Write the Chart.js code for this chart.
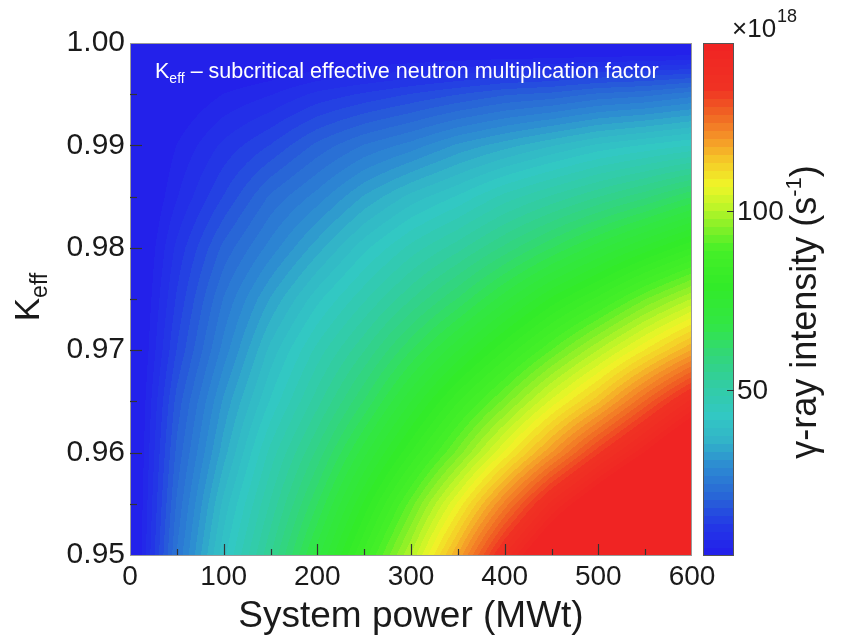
<!DOCTYPE html>
<html>
<head>
<meta charset="utf-8">
<script src="https://cdn.jsdelivr.net/npm/chart.js@4.4.1/dist/chart.umd.min.js"></script>
<style>
  html, body { margin: 0; padding: 0; background: #fff; }
  #wrap { width: 850px; height: 639px; }
</style>
</head>
<body>
<div id="wrap"><canvas id="chart" width="850" height="639"></canvas></div>
<script>
// grid (intensity in units of 1e18 s^-1)
const powers = [0, 50, 100, 150, 200, 250, 300, 350, 400, 450, 500, 550, 600];
const keffs = [0.950, 0.955, 0.960, 0.965, 0.970, 0.975, 0.980, 0.985, 0.990, 0.995, 1.000];
const intensity = [
  [0, 24, 41, 55, 70, 85, 100, 118, 138, 155, 170, 185, 198],
  [0, 22, 38, 51, 64, 78, 92, 107, 123, 139, 152, 165, 178],
  [0, 20, 34, 47, 58, 70, 82, 94, 107, 120, 133, 145, 158],
  [0, 18, 31, 42, 52, 62, 73, 84, 94, 105, 115, 127, 139],
  [0, 15, 27, 38, 47, 55, 64, 73, 82, 91, 100, 109, 118],
  [0, 13, 24, 33, 41, 48, 55, 62, 70, 78, 85, 93, 100],
  [0, 11, 20, 27, 34, 41, 47, 52, 58, 64, 70, 76, 82],
  [0, 8, 15, 22, 27, 33, 38, 42, 47, 51, 55, 59, 64],
  [0, 6, 11, 15, 20, 24, 27, 31, 34, 37, 40, 42, 44],
  [0, 3, 6, 8, 11, 13, 15, 17, 19, 20, 22, 23, 25],
  [0, 0, 0, 0, 0, 0, 0, 0, 0, 0, 0, 0, 0]
];
const xTickMarks = [50, 100, 150, 200, 250, 300, 350, 400, 450, 500, 550];
const yTickMarks = [0.955, 0.96, 0.965, 0.97, 0.975, 0.98, 0.985, 0.99, 0.995];
const cbTicks = [50, 100];
const cbMin = 3.7;
const cbMax = 146.8;

// colour stops taken from the colour bar (value -> rgb)
const cmapStops = [
  [3.7, [35, 30, 235]],
  [12, [35, 55, 230]],
  [20, [40, 100, 215]],
  [29, [45, 140, 210]],
  [36, [50, 180, 200]],
  [43, [50, 200, 195]],
  [52, [50, 205, 160]],
  [60, [50, 215, 120]],
  [68, [50, 230, 70]],
  [79, [50, 235, 40]],
  [89, [70, 240, 40]],
  [95, [130, 240, 40]],
  [101, [190, 245, 40]],
  [107, [240, 245, 40]],
  [114, [245, 200, 40]],
  [120, [245, 150, 40]],
  [127, [240, 100, 35]],
  [134, [240, 50, 35]],
  [146.8, [240, 35, 35]]
];

const FONT = '"Liberation Sans", Arial, Helvetica, sans-serif';

function colorFor(v) {
  // 64 discrete levels like a filled contour
  let t = (v - cbMin) / (cbMax - cbMin);
  t = Math.max(0, Math.min(0.9999, t));
  const lvl = Math.floor(t * 64);
  const q = cbMin + (lvl + 0.5) / 64 * (cbMax - cbMin);
  for (let i = 0; i < cmapStops.length - 1; i++) {
    const a = cmapStops[i], b = cmapStops[i + 1];
    if (q <= b[0]) {
      const f = Math.max(0, (q - a[0]) / (b[0] - a[0]));
      return [0, 1, 2].map(c => Math.round(a[1][c] + f * (b[1][c] - a[1][c])));
    }
  }
  return cmapStops[cmapStops.length - 1][1];
}

function locate(arr, v) {
  if (v <= arr[0]) return [0, 0];
  for (let i = 0; i < arr.length - 1; i++) {
    if (v <= arr[i + 1]) return [i, (v - arr[i]) / (arr[i + 1] - arr[i])];
  }
  return [arr.length - 2, 1];
}

function valueAt(p, k) {
  const [i, fx] = locate(powers, p);
  const [j, fy] = locate(keffs, k);
  const v00 = intensity[j][i], v10 = intensity[j][i + 1];
  const v01 = intensity[j + 1][i], v11 = intensity[j + 1][i + 1];
  return (v00 * (1 - fx) + v10 * fx) * (1 - fy) + (v01 * (1 - fx) + v11 * fx) * fy;
}

const heatmapPlugin = {
  id: 'heatmap',
  beforeDatasetsDraw(chart) {
    const { ctx, chartArea: ca, scales: { x, y } } = chart;
    const w = Math.round(ca.right - ca.left), h = Math.round(ca.bottom - ca.top);
    const off = document.createElement('canvas');
    off.width = w; off.height = h;
    const octx = off.getContext('2d');
    const img = octx.createImageData(w, h);
    const pv = [];
    for (let i = 0; i < w; i++) pv.push(x.getValueForPixel(ca.left + i + 0.5));
    for (let j = 0; j < h; j++) {
      const k = y.getValueForPixel(ca.top + j + 0.5);
      for (let i = 0; i < w; i++) {
        const c = colorFor(valueAt(pv[i], k));
        const o = (j * w + i) * 4;
        img.data[o] = c[0]; img.data[o + 1] = c[1]; img.data[o + 2] = c[2]; img.data[o + 3] = 255;
      }
    }
    octx.putImageData(img, 0, 0);
    ctx.drawImage(off, ca.left, ca.top);
  },
  afterDraw(chart) {
    const { ctx, chartArea: ca, scales: { x, y } } = chart;
    ctx.save();
    // frame
    ctx.strokeStyle = '#9a9a9a';
    ctx.lineWidth = 1;
    ctx.strokeRect(ca.left + 0.5, ca.top + 0.5, ca.right - ca.left - 1, ca.bottom - ca.top);

    // inward tick marks
    ctx.strokeStyle = '#333';
    ctx.lineWidth = 1.2;
    xTickMarks.forEach(v => {
      const px = Math.round(x.getPixelForValue(v)) + 0.5;
      const len = v % 100 === 0 ? 11 : 6;
      ctx.beginPath(); ctx.moveTo(px, ca.bottom); ctx.lineTo(px, ca.bottom - len); ctx.stroke();
    });
    yTickMarks.forEach(v => {
      const py = Math.round(y.getPixelForValue(v)) + 0.5;
      const major = Math.abs(Math.round(v * 100) - v * 100) < 1e-6;
      ctx.beginPath(); ctx.moveTo(ca.left, py); ctx.lineTo(ca.left + (major ? 12 : 7), py); ctx.stroke();
    });

    // annotation inside plot
    ctx.fillStyle = '#fff';
    ctx.textBaseline = 'alphabetic';
    ctx.textAlign = 'left';
    let tx = 155;
    ctx.font = '21.5px ' + FONT;
    ctx.fillText('K', tx, 78);
    tx += ctx.measureText('K').width;
    ctx.font = '14px ' + FONT;
    ctx.fillText('eff', tx, 83);
    tx += ctx.measureText('eff').width;
    ctx.font = '21.5px ' + FONT;
    ctx.fillText(' \u2013 subcritical effective neutron multiplication factor', tx, 78);

    // y axis title K_eff (rotated)
    ctx.fillStyle = '#1a1a1a';
    ctx.save();
    ctx.translate(39, 297);
    ctx.rotate(-Math.PI / 2);
    ctx.font = '35px ' + FONT;
    const kw = ctx.measureText('K').width;
    ctx.font = '23px ' + FONT;
    const ew = ctx.measureText('eff').width;
    let sx = -(kw + ew) / 2;
    ctx.font = '35px ' + FONT;
    ctx.fillText('K', sx, 0);
    ctx.font = '23px ' + FONT;
    ctx.fillText('eff', sx + kw, 8);
    ctx.restore();

    // colour bar
    const cbL = 703, cbR = 734, cbT = ca.top, cbB = 556;
    for (let py = cbT; py < cbB; py++) {
      const v = cbMax - (py + 0.5 - cbT) / (cbB - cbT) * (cbMax - cbMin);
      const c = colorFor(v);
      ctx.fillStyle = 'rgb(' + c.join(',') + ')';
      ctx.fillRect(cbL, py, cbR - cbL, 1);
    }
    ctx.strokeStyle = '#555';
    ctx.lineWidth = 1;
    ctx.strokeRect(cbL + 0.5, cbT + 0.5, cbR - cbL - 1, cbB - cbT - 1);
    ctx.fillStyle = '#1a1a1a';
    ctx.font = '28px ' + FONT;
    ctx.textBaseline = 'middle';
    cbTicks.forEach(v => {
      const py = Math.round(cbB - (v - cbMin) / (cbMax - cbMin) * (cbB - cbT)) + 0.5;
      ctx.strokeStyle = '#333';
      ctx.beginPath(); ctx.moveTo(cbR - 7, py); ctx.lineTo(cbR, py); ctx.stroke();
      ctx.fillText(String(v), cbR + 3, py + 1);
    });

    // multiplier
    ctx.textBaseline = 'alphabetic';
    ctx.font = '26px ' + FONT;
    ctx.fillText('\u00d710', 732, 37);
    const mw = ctx.measureText('\u00d710').width;
    ctx.font = '18px ' + FONT;
    ctx.fillText('18', 732 + mw + 1, 22);

    // colour bar title (rotated)
    ctx.save();
    ctx.translate(816, 312);
    ctx.rotate(-Math.PI / 2);
    ctx.font = '36px ' + FONT;
    const p1 = '\u03b3-ray intensity (s';
    const w1 = ctx.measureText(p1).width;
    const w3 = ctx.measureText(')').width;
    ctx.font = '22px ' + FONT;
    const w2 = ctx.measureText('-1').width;
    let cx = -(w1 + w2 + w3) / 2;
    ctx.font = '36px ' + FONT;
    ctx.fillText(p1, cx, 0);
    ctx.font = '22px ' + FONT;
    ctx.fillText('-1', cx + w1, -15);
    ctx.font = '36px ' + FONT;
    ctx.fillText(')', cx + w1 + w2, 0);
    ctx.restore();

    ctx.restore();
  }
};

const points = [];
keffs.forEach((k, j) => powers.forEach((p, i) => points.push({ x: p, y: k, v: intensity[j][i] })));

new Chart(document.getElementById('chart'), {
  type: 'scatter',
  data: {
    datasets: [{
      label: 'gamma-ray intensity',
      data: points,
      pointRadius: 0,
      pointHoverRadius: 0,
      showLine: false
    }]
  },
  options: {
    responsive: false,
    animation: false,
    events: [],
    layout: { padding: { top: 43, right: 158, left: 0, bottom: 0 } },
    plugins: { legend: { display: false }, tooltip: { enabled: false } },
    scales: {
      x: {
        type: 'linear',
        min: 0,
        max: 600,
        grid: { display: false, drawTicks: false },
        border: { display: false },
        ticks: {
          stepSize: 100,
          maxRotation: 0,
          padding: 5,
          color: '#1a1a1a',
          font: { family: FONT, size: 28 }
        },
        title: {
          display: true,
          text: 'System power (MWt)',
          color: '#1a1a1a',
          padding: { top: 0, bottom: 0 },
          font: { family: FONT, size: 37 }
        },
        afterFit: s => { s.height = 84; }
      },
      y: {
        type: 'linear',
        min: 0.95,
        max: 1.0,
        grid: { display: false, drawTicks: false },
        border: { display: false },
        ticks: {
          stepSize: 0.01,
          padding: 5,
          color: '#1a1a1a',
          font: { family: FONT, size: 30 },
          callback: v => v.toFixed(2)
        },
        afterFit: s => { s.width = 130; }
      }
    }
  },
  plugins: [heatmapPlugin]
});
</script>
</body>
</html>
